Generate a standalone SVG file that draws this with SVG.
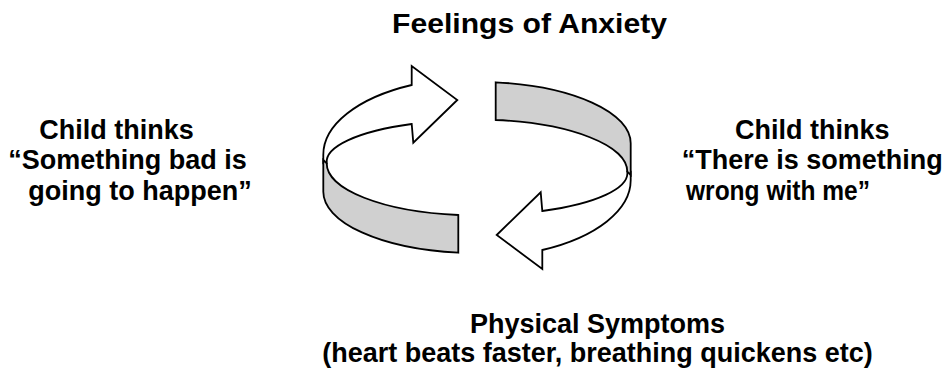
<svg xmlns="http://www.w3.org/2000/svg" width="951" height="371" viewBox="0 0 951 371">
  <style>
    .lbl { font-family: "Liberation Sans", Arial, sans-serif; font-weight: bold; font-size: 27px; fill: #000; }
    .face { fill: #ffffff; stroke: #000; stroke-width: 1.8; stroke-linejoin: miter; }
    .side { fill: #d0d0d0; stroke: #000; stroke-width: 1.8; stroke-linejoin: miter; }
  </style>
  <defs>
    <g id="arrowShape">
      <path class="face" d="M 411.7,85 A 153.7,77 0 0 0 323.3,155 L 323.3,163.3 L 326.7,163.3 A 150.3,42 0 0 1 411.7,124 L 413.3,142.7 L 457.3,100 L 411.7,66 Z"/>
      <path class="side" d="M 326.7,163.3 A 150.3,52 0 0 0 458.3,215 L 458.3,252.7 A 153.7,61.5 0 0 1 323.3,191.7 L 323.3,160 Z"/>
    </g>
  </defs>
  <g id="connectors">
    <use id="arrow-left" href="#arrowShape"/>
    <use id="arrow-right" href="#arrowShape" transform="rotate(180 477 167.5)"/>
  </g>
  <g id="node-feelings">
    <text class="lbl" x="392" y="33.3" font-size="29" textLength="275" lengthAdjust="spacingAndGlyphs">Feelings of Anxiety</text>
  </g>
  <g id="node-left">
    <text class="lbl" x="39.3" y="139.3">Child thinks</text>
    <text class="lbl" x="8.3" y="169">“Something bad is</text>
    <text class="lbl" x="28.3" y="200">going to happen”</text>
  </g>
  <g id="node-right">
    <text class="lbl" x="735" y="139.3">Child thinks</text>
    <text class="lbl" x="681.7" y="169">“There is something</text>
    <text class="lbl" x="686" y="200" textLength="184" lengthAdjust="spacingAndGlyphs">wrong with me”</text>
  </g>
  <g id="node-physical">
    <text class="lbl" x="597.5" y="333.3" text-anchor="middle">Physical Symptoms</text>
    <text class="lbl" x="597.5" y="361.7" text-anchor="middle">(heart beats faster, breathing quickens etc)</text>
  </g>
</svg>
